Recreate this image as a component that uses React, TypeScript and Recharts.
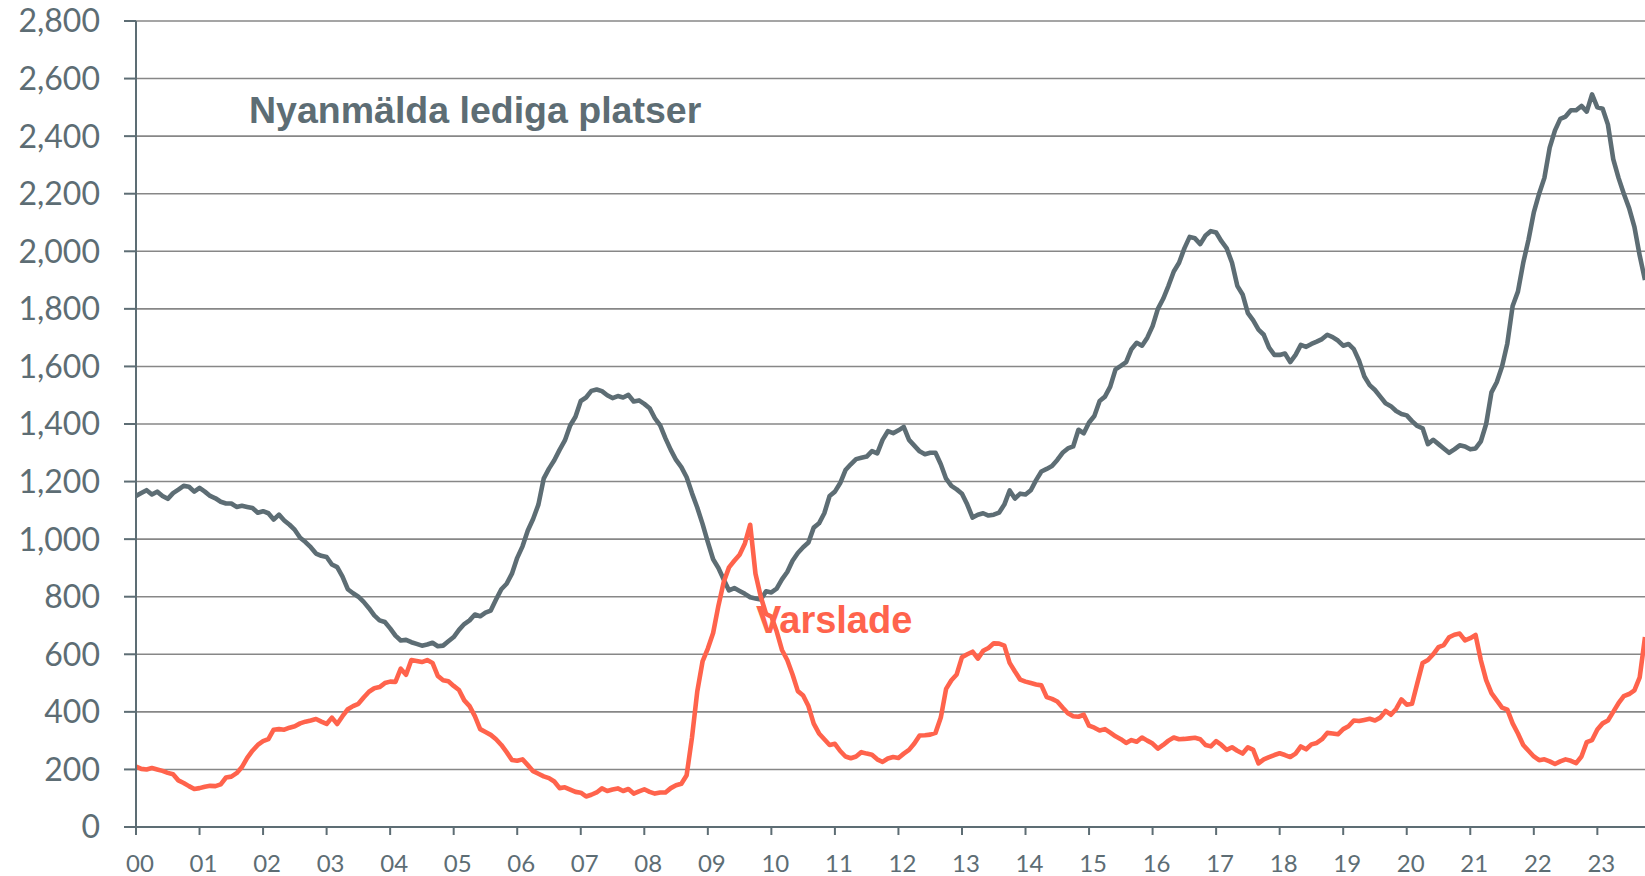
import React from 'react';
import { LineChart, Line, XAxis, YAxis, CartesianGrid } from 'recharts';

// Monthly values, Jan 2000 .. Oct 2023
const nyanmalda: number[] = [
  // 2000
  1150, 1160, 1170, 1155, 1165, 1150, 1140, 1160, 1172, 1185, 1182, 1165,
  // 2001
  1178, 1165, 1150, 1142, 1130, 1124, 1124, 1112, 1116, 1112, 1108, 1092,
  // 2002
  1097, 1090, 1068, 1085, 1065, 1050, 1032, 1005, 990, 972, 950, 942,
  // 2003
  938, 912, 903, 870, 826, 812, 800, 782, 760, 735, 718, 712,
  // 2004
  690, 665, 648, 650, 642, 636, 630, 634, 640, 628, 630, 645,
  // 2005
  660, 685, 705, 718, 738, 732, 745, 752, 790, 826, 845, 880,
  // 2006
  935, 975, 1030, 1070, 1120, 1210, 1245, 1274, 1310, 1343, 1395, 1425,
  // 2007
  1480, 1492, 1515, 1520, 1514, 1500, 1490, 1497, 1492, 1501, 1478, 1482,
  // 2008
  1470, 1455, 1420, 1395, 1350, 1310, 1275, 1250, 1215, 1160, 1110, 1053,
  // 2009
  990, 930, 900, 860, 822, 830, 820, 810, 798, 794, 790, 819,
  // 2010
  815, 828, 860, 886, 925, 952, 972, 988, 1040, 1055, 1090, 1150,
  // 2011
  1165, 1195, 1240, 1260, 1278, 1283, 1287, 1306, 1298, 1345, 1375, 1368,
  // 2012
  1378, 1390, 1345, 1325, 1305, 1295, 1300, 1300, 1260, 1210, 1185, 1173,
  // 2013
  1158, 1120, 1075, 1085, 1090, 1082, 1085, 1092, 1120, 1169, 1141, 1158,
  // 2014
  1155, 1170, 1205, 1235, 1244, 1254, 1275, 1300, 1315, 1322, 1380, 1368,
  // 2015
  1405, 1428, 1480, 1495, 1530, 1590, 1602, 1615, 1660, 1682, 1672, 1700,
  // 2016
  1740, 1800, 1835, 1880, 1930, 1960, 2010, 2050, 2045, 2025, 2055, 2070,
  // 2017
  2065, 2035, 2010, 1960, 1880, 1850, 1785, 1760, 1728, 1710, 1665, 1640,
  // 2018
  1640, 1645, 1615, 1640, 1675, 1668, 1678, 1686, 1695, 1710, 1702, 1690,
  // 2019
  1672, 1678, 1660, 1620, 1565, 1535, 1518, 1495, 1472, 1462, 1445, 1435,
  // 2020
  1430, 1410, 1393, 1385, 1330, 1345, 1330, 1315, 1300, 1312, 1326, 1322,
  // 2021
  1312, 1315, 1340, 1400, 1510, 1545, 1600, 1680, 1810, 1860, 1960, 2040,
  // 2022
  2135, 2200, 2255, 2360, 2420, 2460, 2468, 2490, 2490, 2505, 2485, 2545,
  // 2023
  2500, 2495, 2440, 2320, 2255, 2200, 2150, 2085, 1985, 1900,
];

const varslade: number[] = [
  // 2000
  210, 202, 200, 205, 200, 195, 188, 183, 162, 153, 142, 132,
  // 2001
  135, 140, 143, 142, 148, 172, 175, 187, 208, 240, 265, 285,
  // 2002
  298, 305, 338, 340, 338, 345, 350, 360, 366, 370, 375, 366,
  // 2003
  358, 380, 358, 385, 409, 420, 428, 450, 470, 482, 486, 500,
  // 2004
  505, 504, 550, 529, 580, 577, 573, 580, 570, 525, 510, 506,
  // 2005
  490, 476, 440, 420, 385, 340, 330, 320, 305, 285, 260, 233,
  // 2006
  230, 235, 215, 194, 185, 176, 170, 158, 135, 138, 130, 122,
  // 2007
  119, 106, 112, 120, 134, 125, 130, 134, 125, 132, 116, 124,
  // 2008
  131, 122, 116, 120, 120, 135, 145, 150, 180, 310, 470, 575,
  // 2009
  620, 674, 769, 851, 902, 925, 946, 985, 1050, 880, 800, 740,
  // 2010
  731, 680, 615, 580, 530, 472, 457, 420, 359, 325, 305, 285,
  // 2011
  289, 264, 245, 239, 245, 260, 255, 251, 235, 226, 238, 243,
  // 2012
  240, 255, 268, 290, 318, 319, 321, 327, 380, 480, 510, 530,
  // 2013
  590, 600, 609, 585, 612, 622, 638, 637, 630, 570, 540, 512,
  // 2014
  505, 500, 495, 492, 451, 445, 436, 415, 395, 385, 383, 390,
  // 2015
  352, 345, 335, 340, 328, 315, 305, 292, 302, 296, 311, 300,
  // 2016
  290, 272, 285, 300, 311, 305, 306, 308, 310, 305, 285, 280,
  // 2017
  298, 285, 268, 277, 265, 255, 277, 268, 221, 235, 243, 250,
  // 2018
  256, 250, 243, 255, 280, 270, 287, 292, 305, 327, 325, 322,
  // 2019
  340, 350, 370, 368, 372, 376, 370, 380, 403, 390, 410, 443,
  // 2020
  425, 428, 500, 570, 580, 600, 625, 632, 659, 668, 672, 648,
  // 2021
  656, 667, 579, 510, 465, 440, 415, 408, 360, 325, 285, 265,
  // 2022
  245, 232, 235, 228, 219, 228, 235, 230, 222, 245, 295, 302,
  // 2023
  339, 360, 370, 400, 430, 455, 462, 475, 520, 660,
];

const yearLabels: string[] = [
  '00', '01', '02', '03', '04', '05', '06', '07', '08', '09', '10', '11',
  '12', '13', '14', '15', '16', '17', '18', '19', '20', '21', '22', '23',
];
const yTicks: number[] = [0, 200, 400, 600, 800, 1000, 1200, 1400, 1600, 1800, 2000, 2200, 2400, 2600, 2800];

const seriesNames = { nyanmalda: 'Nyanmälda lediga platser', varslade: 'Varslade' };

const data = nyanmalda.map((v, i) => ({ m: i, nyanmalda: v, varslade: varslade[i] }));
const xTicks = yearLabels.map((_, i) => i * 12);

const GRAY = '#5d6d74';
const RED = '#ff634c';
const AXIS = '#5d6d74';
const GRID = '#878787';

const XTick = (props: any) => {
  const { x, y, payload } = props;
  const label = yearLabels[Math.round(payload.value / 12)];
  return (
    <text x={x + 4} y={y + 37} textAnchor="middle" fill={AXIS} fontSize={24} fontFamily="Lato">
      {label}
    </text>
  );
};

export default function App() {
  return (
    <div style={{ position: 'absolute', left: 0, top: 0, width: 1645, height: 876, overflow: 'hidden', background: '#fff' }}>
      <LineChart width={1645} height={876} data={data} margin={{ top: 21, right: 0, bottom: 0, left: 0 }}>
        <CartesianGrid vertical={false} stroke={GRID} strokeWidth={1.6} />
        <XAxis
          dataKey="m"
          type="number"
          domain={[0, 285]}
          ticks={xTicks}
          interval={0}
          height={49}
          tickSize={8}
          tickMargin={0}
          axisLine={{ stroke: AXIS, strokeWidth: 2 }}
          tickLine={{ stroke: AXIS, strokeWidth: 2 }}
          tick={<XTick />}
          allowDataOverflow
        />
        <YAxis
          type="number"
          domain={[0, 2800]}
          ticks={yTicks}
          interval={0}
          width={136}
          tickSize={12}
          tickMargin={24}
          axisLine={{ stroke: AXIS, strokeWidth: 2 }}
          tickLine={{ stroke: AXIS, strokeWidth: 2 }}
          tick={{ fill: AXIS, fontSize: 32, fontFamily: 'Lato' }}
          tickFormatter={(v: number) => v.toLocaleString('en-US')}
        />
        <Line
          type="linear"
          dataKey="nyanmalda"
          name={seriesNames.nyanmalda}
          stroke={GRAY}
          strokeWidth={4.6}
          dot={false}
          strokeLinejoin="round"
          isAnimationActive={false}
        />
        <Line
          type="linear"
          dataKey="varslade"
          name={seriesNames.varslade}
          stroke={RED}
          strokeWidth={4.6}
          dot={false}
          strokeLinejoin="round"
          isAnimationActive={false}
        />
      </LineChart>
      <svg width={1645} height={876} style={{ position: 'absolute', left: 0, top: 0, pointerEvents: 'none' }}>
        <text x={249} y={123} fill={GRAY} fontSize={37.5} fontWeight="bold" fontFamily="Liberation Sans, Arial, sans-serif">
          {seriesNames.nyanmalda}
        </text>
        <text x={756} y={633} fill={RED} fontSize={38} fontWeight="bold" fontFamily="Liberation Sans, Arial, sans-serif">
          {seriesNames.varslade}
        </text>
      </svg>
    </div>
  );
}
